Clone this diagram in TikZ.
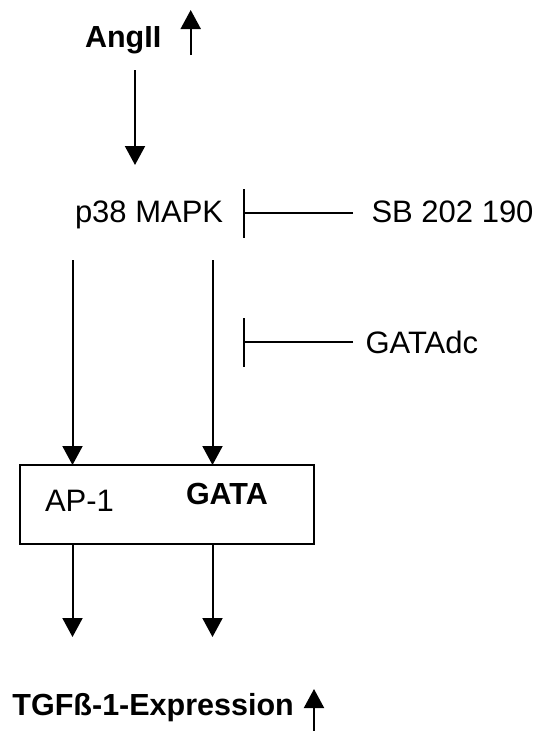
\documentclass[tikz,border=0pt]{standalone}
\usepackage{fontspec}
\setmainfont{Liberation Sans}
\usetikzlibrary{arrows.meta}
\tikzset{
  lbl/.style={anchor=base west, inner sep=0pt, outer sep=0pt, font=\fontsize{31}{37}\selectfont},
  blbl/.style={lbl, font=\fontsize{30.5}{37}\selectfont\bfseries},
  arr/.style={line width=2pt, -{Triangle[width=20pt,length=19pt]}},
  inh/.style={line width=2pt, -{Bar[width=49pt]}},
  boxst/.style={draw, line width=2pt, minimum width=294pt, minimum height=79pt, inner sep=0pt, outer sep=0pt, anchor=north west}
}
\begin{document}
\begin{tikzpicture}[x=1pt,y=-1pt]
\useasboundingbox (0,0) rectangle (537,731);
% labels
\node[blbl] (angII) at (85,47) {AngII};
\node[lbl] (p38) at (75,222) {p38 MAPK};
\node[lbl] (sb) at (371.5,222) {SB 202 190};
\node[lbl] (gatadc) at (365.5,353) {GATAdc};
\node[boxst] (box) at (20,465) {};
\node[lbl] (ap1) at (45,511) {AP-1};
\node[blbl] (gata) at (186,504) {GATA};
\node[blbl] (tgf) at (12.5,715) {TGFß-1-Expression};
% coordinates
\coordinate (angup0) at (190.7,55);
\coordinate (angup1) at (190.7,10);
\coordinate (angd0) at (135,70);
\coordinate (angd1) at (135,165);
\coordinate (l0) at (72.5,260);
\coordinate (m0) at (212.5,260);
\coordinate (lb) at (72.5,637);
\coordinate (mb) at (212.5,637);
\coordinate (sbline) at (353,213);
\coordinate (sbbar) at (243,213);
\coordinate (gline) at (353,342);
\coordinate (gbar) at (243,342);
\coordinate (tup0) at (314,731);
\coordinate (tup1) at (314,689);
% connectors
\draw[arr] (angup0) -- (angup1);
\draw[arr] (angd0) -- (angd1);
\draw[inh] (sbline) -- (sbbar);
\draw[inh] (gline) -- (gbar);
\draw[arr] (l0) -- (l0 |- box.north);
\draw[arr] (m0) -- (m0 |- box.north);
\draw[arr] (l0 |- box.south) -- (lb);
\draw[arr] (m0 |- box.south) -- (mb);
\draw[arr] (tup0) -- (tup1);
\end{tikzpicture}
\end{document}
